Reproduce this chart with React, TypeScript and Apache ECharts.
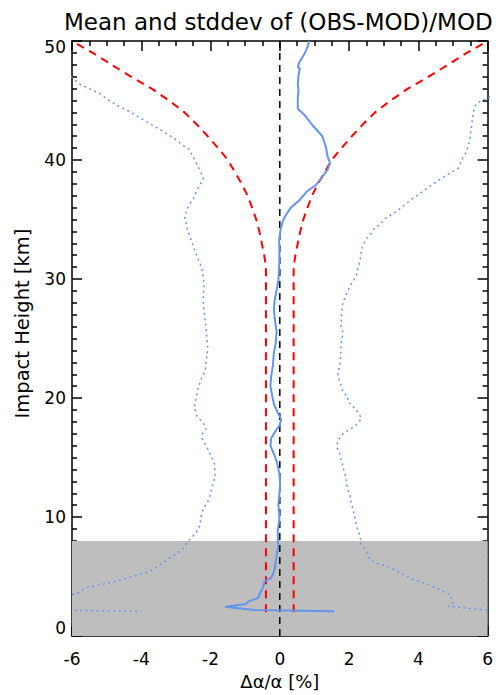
import React, { useEffect, useRef } from "react";
import * as echarts from "echarts";

// Mean of (OBS-MOD)/MOD [%] vs impact height [km]
const meanH = [50.0, 49.5, 48.9, 48.2, 47.8, 47.7, 47.1, 46.3, 45.9, 45.2, 44.3, 43.8, 42.9, 42.0, 41.1, 40.3, 39.75, 39.2, 38.6, 37.9, 37.4, 36.6, 36.0, 35.4, 34.9, 34.1, 33.25, 32.1, 31.0, 29.9, 29.1, 28.2, 27.4, 26.3, 25.6, 24.6, 23.8, 22.7, 21.8, 21.0, 20.2, 19.5, 18.8, 18.2, 17.7, 17.1, 16.6, 16.0, 15.3, 14.6, 13.6, 12.7, 11.0, 9.9, 8.8, 7.5, 6.4, 5.6, 5.2, 4.9, 4.6, 4.06, 3.8, 3.2, 2.9, 2.7, 2.47, 2.2, 2.08];
const meanX = [0.85, 0.80, 0.71, 0.56, 0.52, 0.58, 0.54, 0.52, 0.54, 0.52, 0.52, 0.71, 0.95, 1.23, 1.33, 1.38, 1.45, 1.38, 1.23, 1.04, 0.80, 0.56, 0.32, 0.18, 0.09, 0.02, -0.02, -0.01, -0.02, -0.04, -0.09, -0.15, -0.17, -0.13, -0.09, -0.12, -0.17, -0.20, -0.25, -0.27, -0.22, -0.17, -0.06, 0.04, -0.01, -0.15, -0.25, -0.27, -0.17, -0.08, -0.01, 0.01, -0.04, -0.01, -0.06, -0.05, -0.11, -0.15, -0.2, -0.25, -0.44, -0.49, -0.54, -0.63, -0.92, -0.97, -1.58, -0.73, 1.57];

// mean - stddev
const lowH = [50, 48.5, 47.0, 46.4, 46.0, 45.6, 45.0, 44.5, 44.1, 43.6, 43.1, 42.7, 41.8, 41.3, 40.9, 39.9, 39.1, 38.4, 37.7, 36.8, 36.1, 35.3, 34.3, 33.1, 32.0, 30.9, 29.6, 27.9, 26.6, 25.2, 24.2, 23.4, 22.25, 21.6, 20.7, 19.6, 19.2, 18.5, 17.9, 17.4, 17.0, 16.6, 15.9, 15.3, 14.5, 13.8, 13.4, 12.9, 12.1, 11.4, 10.7, 10.0, 9.3, 8.6, 8.0, 7.25, 6.7, 6.1, 5.4, 5.0, 4.6, 4.3, 4.06, 3.6, 3.5, 2.47, 2.2, 2.08];
const lowX = [-8.0, -7.0, -6.03, -5.79, -5.5, -5.21, -4.93, -4.64, -4.36, -4.07, -3.78, -3.54, -3.04, -2.83, -2.62, -2.44, -2.30, -2.21, -2.35, -2.49, -2.64, -2.75, -2.68, -2.54, -2.40, -2.25, -2.19, -2.21, -2.16, -2.11, -2.08, -2.11, -2.16, -2.27, -2.37, -2.44, -2.47, -2.40, -2.21, -2.13, -2.23, -2.24, -2.11, -2.01, -1.89, -1.87, -1.87, -1.92, -1.99, -2.06, -2.21, -2.28, -2.30, -2.44, -2.64, -2.83, -3.11, -3.40, -3.78, -4.26, -4.74, -5.21, -5.60, -5.84, -5.98, -8.3, -7.1, -4.0];

// mean + stddev
const highH = [50, 47.5, 46.0, 45.1, 44.9, 44.5, 43.8, 42.7, 41.6, 40.7, 40.2, 39.3, 38.9, 38.2, 37.4, 36.6, 35.7, 35.1, 34.6, 34.3, 33.9, 33.6, 33.4, 33.0, 32.7, 32.25, 31.8, 31.4, 31.0, 30.4, 29.9, 29.6, 29.2, 28.8, 28.4, 28.1, 27.7, 27.3, 27.0, 26.6, 26.1, 25.8, 25.4, 25.1, 24.75, 24.3, 24.0, 23.6, 23.2, 22.9, 22.5, 22.2, 21.8, 21.4, 20.8, 20.4, 20.1, 19.75, 19.5, 19.2, 18.9, 18.6, 18.3, 18.0, 17.7, 17.4, 17.25, 17.0, 16.8, 16.4, 16.0, 15.6, 15.3, 14.9, 14.6, 14.1, 13.8, 13.4, 12.9, 12.25, 11.8, 11.5, 11.1, 10.7, 10.3, 9.9, 9.2, 8.9, 8.5, 8.2, 7.9, 7.5, 7.0, 6.4, 6.1, 5.9, 5.3, 4.75, 4.4, 3.9, 3.5, 2.8, 2.5, 2.44, 2.25, 2.08];
const highX = [9.0, 7.5, 6.5, 5.91, 5.77, 5.62, 5.58, 5.53, 5.48, 5.39, 5.29, 5.15, 4.91, 4.53, 4.15, 3.76, 3.38, 3.05, 2.90, 2.74, 2.66, 2.57, 2.50, 2.43, 2.38, 2.35, 2.33, 2.30, 2.26, 2.22, 2.14, 2.07, 2.0, 1.93, 1.88, 1.83, 1.80, 1.79, 1.78, 1.78, 1.76, 1.79, 1.83, 1.80, 1.78, 1.76, 1.78, 1.74, 1.76, 1.74, 1.71, 1.68, 1.68, 1.74, 1.79, 1.85, 1.97, 1.95, 2.04, 2.14, 2.23, 2.30, 2.36, 2.28, 2.19, 2.04, 1.95, 1.83, 1.76, 1.68, 1.64, 1.68, 1.74, 1.76, 1.80, 1.83, 1.87, 1.90, 1.93, 1.97, 2.03, 2.04, 2.07, 2.11, 2.14, 2.17, 2.22, 2.25, 2.31, 2.33, 2.30, 2.41, 2.52, 2.60, 2.81, 3.09, 3.48, 3.86, 4.24, 4.62, 4.91, 5.0, 4.86, 5.15, 5.67, 7.14];

// red dashed envelope
const envH = [2, 31, 32, 33, 34, 35, 36, 37, 38, 39, 40, 41, 42, 43, 44, 45, 46, 47, 48, 49, 50];
const envRightX = [0.4, 0.4, 0.45, 0.52, 0.59, 0.68, 0.8, 0.93, 1.1, 1.3, 1.5, 1.78, 2.08, 2.4, 2.75, 3.2, 3.7, 4.3, 4.85, 5.4, 6.0];
const envLeftX = [-0.4, -0.4, -0.45, -0.52, -0.59, -0.68, -0.8, -0.93, -1.1, -1.3, -1.5, -1.78, -2.08, -2.4, -2.75, -3.2, -3.7, -4.3, -4.85, -5.4, -6.0];

// zero line
const zeroH = [0, 50];
const zeroX = [0, 0];

// grey shaded region (0 - 8 km)
const shadeX = [-6, 6];
const shadeH = [8, 8];

const xTicks = [-6, -4, -2, 0, 2, 4, 6];
const yTicks = [0, 10, 20, 30, 40, 50];

const FONT = "DejaVu Sans";
const BLUE = "#6495ED";

const pairs = (xs: number[], hs: number[]) => xs.map((x, i) => [x, hs[i]]);

export default function App() {
  const ref = useRef<HTMLDivElement>(null);
  useEffect(() => {
    const chart = echarts.init(ref.current!, null, { renderer: "svg" });
    const axisLine = { show: true, onZero: false, lineStyle: { color: "#000", width: 1.5 } };
    const tick = { show: true, inside: true, length: 10, lineStyle: { color: "#000", width: 1.5 } };
    const xBase = {
      type: "value" as const,
      min: xTicks[0],
      max: xTicks[xTicks.length - 1],
      interval: xTicks[1] - xTicks[0],
      axisLine,
      axisTick: tick,
      minorTick: { show: true, splitNumber: 4, length: 5, lineStyle: { color: "#000", width: 1.5 } },
      splitLine: { show: false },
    };
    const yBase = {
      type: "value" as const,
      min: yTicks[0],
      max: yTicks[yTicks.length - 1],
      interval: yTicks[1] - yTicks[0],
      axisLine,
      axisTick: tick,
      minorTick: { show: true, splitNumber: 10, length: 5, lineStyle: { color: "#000", width: 1.5 } },
      splitLine: { show: false },
    };
    chart.setOption({
      animation: false,
      backgroundColor: "#fff",
      title: {
        text: "Mean and stddev of (OBS-MOD)/MOD",
        left: 64,
        top: 10,
        padding: 0,
        textStyle: { fontFamily: FONT, fontSize: 23, fontWeight: "normal", color: "#000" },
      },
      grid: { left: 72, top: 41, width: 419, height: 601, containLabel: false },
      xAxis: [
        {
          ...xBase,
          position: "bottom",
          name: "Δα/α [%]",
          nameLocation: "middle",
          nameGap: 35,
          nameTextStyle: { fontFamily: FONT, fontSize: 18, color: "#000" },
          axisLabel: { fontFamily: FONT, fontSize: 17, color: "#000", margin: 14 },
        },
        { ...xBase, position: "top", axisLabel: { show: false } },
      ],
      yAxis: [
        {
          ...yBase,
          position: "left",
          name: "Impact Height [km]",
          nameLocation: "middle",
          nameGap: 40,
          nameTextStyle: { fontFamily: FONT, fontSize: 19.5, color: "#000", padding: [0, 0, 0, 30] },
          axisLabel: {
            fontFamily: FONT,
            fontSize: 17,
            color: "#000",
            margin: 6,
            formatter: (v: number) =>
              v === yTicks[0] ? "{lo|" + v + "}" : v === yTicks[yTicks.length - 1] ? "{hi|" + v + "}" : String(v),
            rich: {
              lo: { fontFamily: FONT, fontSize: 17, color: "#000", padding: [0, 0, 16, 0] },
              hi: { fontFamily: FONT, fontSize: 17, color: "#000", padding: [12, 0, 0, 0] },
            },
          },
        },
        { ...yBase, position: "right", axisLabel: { show: false } },
      ],
      series: [
        {
          type: "line",
          data: pairs(shadeX, shadeH),
          showSymbol: false,
          lineStyle: { width: 0, opacity: 0 },
          areaStyle: { color: "#BEBEBE", opacity: 1, origin: "start" },
          z: 1,
          silent: true,
        },
        {
          type: "line",
          data: pairs(zeroX, zeroH),
          showSymbol: false,
          lineStyle: { color: "#000", width: 1.5, type: [7, 5] },
          z: 3,
        },
        {
          type: "line",
          data: pairs(envLeftX, envH),
          showSymbol: false,
          lineStyle: { color: "#FF0000", width: 2, type: [8, 6] },
          z: 3,
        },
        {
          type: "line",
          data: pairs(envRightX, envH),
          showSymbol: false,
          lineStyle: { color: "#FF0000", width: 2, type: [8, 6] },
          z: 3,
        },
        {
          type: "line",
          data: pairs(lowX, lowH),
          showSymbol: false,
          lineStyle: { color: BLUE, width: 1.5, type: [2, 3.5] },
          z: 4,
        },
        {
          type: "line",
          data: pairs(highX, highH),
          showSymbol: false,
          lineStyle: { color: BLUE, width: 1.5, type: [2, 3.5] },
          z: 4,
        },
        {
          type: "line",
          data: pairs(meanX, meanH),
          showSymbol: false,
          lineStyle: { color: BLUE, width: 2 },
          z: 5,
        },
      ],
    });
    return () => chart.dispose();
  }, []);
  return <div ref={ref} style={{ position: "fixed", left: 0, top: 0, width: 496, height: 695 }} />;
}
